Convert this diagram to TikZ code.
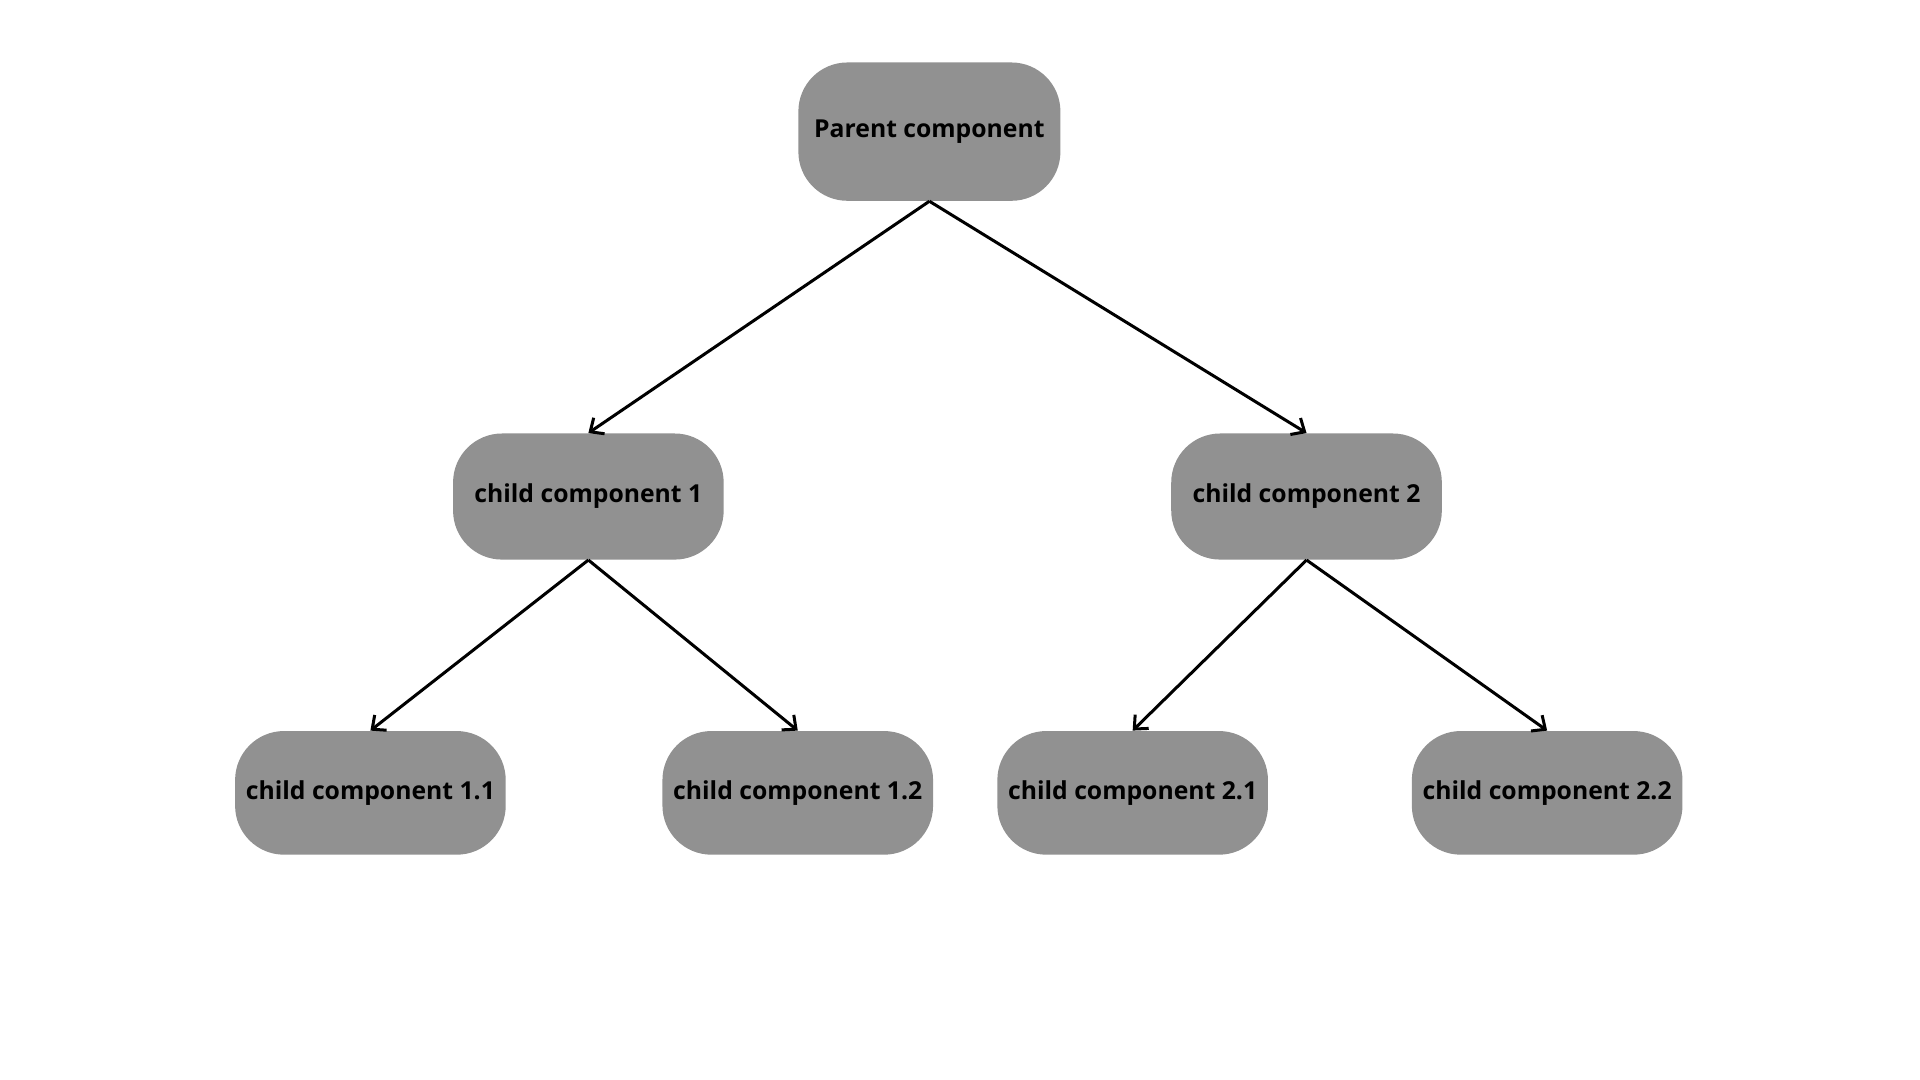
\documentclass[tikz,border=0pt]{standalone}
\usepackage{fontspec}
\setmainfont{Open Sans}
\usetikzlibrary{arrows.meta}
\definecolor{boxgray}{HTML}{919191}
\begin{document}
\begin{tikzpicture}[x=0.02cm,y=-0.02cm,
  box/.style={draw=none,fill=boxgray,rounded corners=0.8cm,minimum width=#1*0.02cm,inner sep=0pt,font=\fontsize{11.5}{13}\selectfont\bfseries},
  arr/.style={-{Straight Barb[length=5pt,width=9pt]},line width=1.4pt}]
\useasboundingbox (0,0) rectangle (1568,882);
\node[box=214,minimum height=2.26cm] (p) at (759,107.5) {Parent component};
\node[box=221,minimum height=2.06cm] (c1) at (480.5,405.5) {child component 1};
\node[box=221,minimum height=2.06cm] (c2) at (1067,405.5) {child component 2};
\node[box=221,minimum height=2.02cm] (c11) at (302.5,647.5) {child component 1.1};
\node[box=221,minimum height=2.02cm] (c12) at (651.5,647.5) {child component 1.2};
\node[box=221,minimum height=2.02cm] (c21) at (925,647.5) {child component 2.1};
\node[box=221,minimum height=2.02cm] (c22) at (1263.5,647.5) {child component 2.2};
\draw[arr] (p.south) -- (c1.north);
\draw[arr] (p.south) -- (c2.north);
\draw[arr] (c1.south) -- (c11.north);
\draw[arr] (c1.south) -- (c12.north);
\draw[arr] (c2.south) -- (c21.north);
\draw[arr] (c2.south) -- (c22.north);
\end{tikzpicture}
\end{document}
